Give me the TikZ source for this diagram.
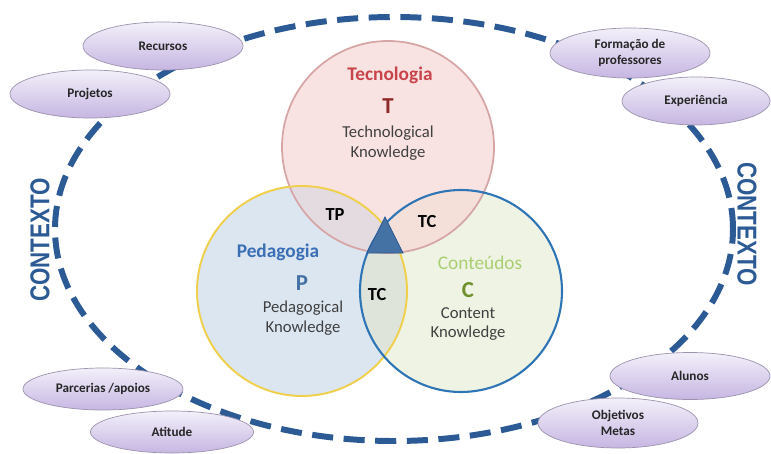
\documentclass[tikz,border=0pt]{standalone}
\usepackage{fontspec}
\setmainfont{Carlito}
\newfontfamily\ctxfont{Liberation Sans}
\usetikzlibrary{shapes.geometric}

\definecolor{ringblue}{HTML}{2C5A94}
\definecolor{elltop}{HTML}{F3F0FA}
\definecolor{ellbot}{HTML}{C6B6E2}
\definecolor{ellgray}{HTML}{9C93AC}
\definecolor{tfill}{HTML}{F8E3E2}
\definecolor{tline}{HTML}{D6A6A6}
\definecolor{pfill}{HTML}{DCE6F1}
\definecolor{pline}{HTML}{EFCF4C}
\definecolor{cfill}{HTML}{EFF3E4}
\definecolor{cline}{HTML}{2E75B6}
\definecolor{tpfill}{HTML}{E4DBE0}
\definecolor{tcfill}{HTML}{F5DFD9}
\definecolor{pcfill}{HTML}{DEE4DA}
\definecolor{tred}{HTML}{C9434A}
\definecolor{tdark}{HTML}{8E2A2A}
\definecolor{pblue}{HTML}{3A6EB5}
\definecolor{pdark}{HTML}{4472A4}
\definecolor{cgreen}{HTML}{A9CF72}
\definecolor{cdark}{HTML}{6E8F2A}
\definecolor{bodytext}{HTML}{404040}

\begin{document}
\begin{tikzpicture}[
    topic/.style={ellipse, draw=ellgray, thin, top color=elltop, bottom color=ellbot,
        minimum width=3.2cm, minimum height=0.96cm, inner sep=0pt, align=center,
        font=\fontsize{7.5}{9.5}\selectfont\bfseries, text=black!85},
    ctx/.style={text=ringblue, font=\ctxfont\fontsize{15.5}{16}\selectfont\bfseries},
    title/.style={font=\fontsize{11}{12}\selectfont\bfseries},
    letter/.style={font=\fontsize{13}{14}\selectfont\bfseries},
    body/.style={text=bodytext, align=center, font=\fontsize{9.5}{11.3}\selectfont},
    zone/.style={font=\fontsize{10.5}{11}\selectfont\bfseries, text=black}
]
    \useasboundingbox (0,0) rectangle (15.42,9.06);

    % Centres of the three circles and of the ring
    \coordinate (tc) at (7.76, 6.12);
    \coordinate (pc) at (6.04, 3.24);
    \coordinate (cc) at (9.22, 3.24);
    \coordinate (ring) at (7.88, 4.48);

    % Dashed ring of the context
    \draw[ringblue, line width=3.4pt, dash pattern=on 12pt off 6pt] (ring) ellipse [x radius=6.78, y radius=4.24];

    % Circle fills and their overlaps
    \fill[pfill] (pc) circle (2.10);
    \fill[cfill] (cc) circle (2.02);
    \fill[tfill] (tc) circle (2.12);
    \begin{scope}
        \clip (pc) circle (2.10);
        \fill[pcfill] (cc) circle (2.02);
        \fill[tpfill] (tc) circle (2.12);
    \end{scope}
    \begin{scope}
        \clip (cc) circle (2.02);
        \fill[tcfill] (tc) circle (2.12);
    \end{scope}

    % Circle borders
    \draw[tline, line width=1pt] (tc) circle (2.12);
    \draw[pline, line width=1.1pt] (pc) circle (2.10);
    \draw[cline, line width=1.2pt] (cc) circle (2.02);

    % Centre triangle
    \coordinate (tri1) at (7.70, 4.72);
    \coordinate (tri2) at (7.34, 4.00);
    \coordinate (tri3) at (8.06, 4.00);
    \fill[pdark, draw=ringblue] (tri1) -- (tri2) -- (tri3) -- cycle;

    % Texts of the circles
    \node[title, text=tred] (tecno) at (7.80, 7.56) {Tecnologia};
    \node[letter, text=tdark] (tlet) at (7.76, 6.94) {T};
    \node[body] (tknow) at (7.76, 6.20) {Technological\\Knowledge};

    \node[title, text=pblue] (pedag) at (5.56, 4.02) {Pedagogia};
    \node[letter, text=pdark] (plet) at (6.04, 3.40) {P};
    \node[body] (pknow) at (6.06, 2.70) {Pedagogical\\Knowledge};

    \node[title, text=cgreen, font=\fontsize{11}{12}\selectfont] (conte) at (9.60, 3.80) {Conteúdos};
    \node[letter, text=cdark] (clet) at (9.36, 3.26) {C};
    \node[body] (cknow) at (9.36, 2.58) {Content\\Knowledge};

    \node[zone] (tp) at (6.70, 4.76) {TP};
    \node[zone] (tcup) at (8.54, 4.62) {TC};
    \node[zone] (tclow) at (7.54, 3.16) {TC};

    % Context on both sides
    \node[ctx, rotate=90] (ctxl) at (0.80, 4.26) {\scalebox{0.82}[1]{CONTEXTO}};
    \node[ctx, rotate=-90] (ctxr) at (14.94, 4.58) {\scalebox{0.82}[1]{CONTEXTO}};

    % Topics on the ring
    \node[topic] (recursos) at (3.26, 8.14) {Recursos};
    \node[topic] (projetos) at (1.80, 7.18) {Projetos};
    \node[topic, minimum height=1.0cm] (formacao) at (12.60, 8.00) {Formação de\\professores};
    \node[topic, minimum width=2.96cm] (experiencia) at (13.92, 7.04) {Experiência};
    \node[topic, minimum height=0.84cm] (parcerias) at (2.06, 1.28) {Parcerias /apoios};
    \node[topic, minimum width=3.26cm, minimum height=0.84cm] (atitude) at (3.44, 0.42) {Atitude};
    \node[topic, minimum height=0.94cm] (alunos) at (13.80, 1.54) {Alunos};
    \node[topic, minimum height=1.0cm] (objetivos) at (12.36, 0.60) {Objetivos\\Metas};
\end{tikzpicture}
\end{document}
